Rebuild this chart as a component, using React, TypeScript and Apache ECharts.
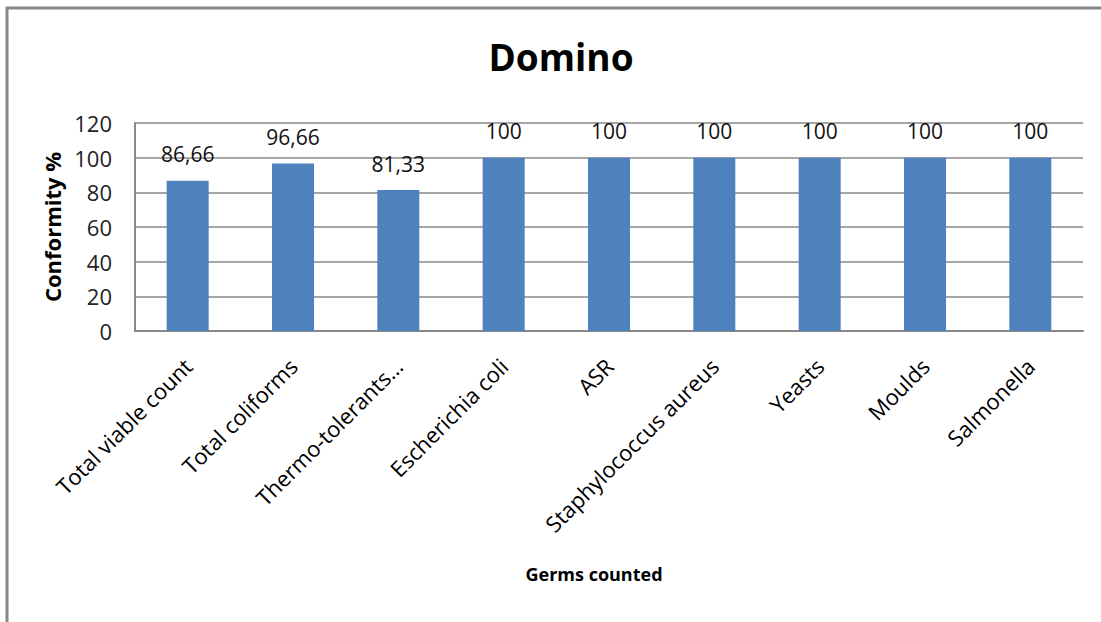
import React, { useEffect, useRef } from "react";
import * as echarts from "echarts";

const categories = [
  "Total viable count",
  "Total coliforms",
  "Thermo-tolerants…",
  "Escherichia coli",
  "ASR",
  "Staphylococcus aureus",
  "Yeasts",
  "Moulds",
  "Salmonella",
];
const values = [86.66, 96.66, 81.33, 100, 100, 100, 100, 100, 100];
const yTicks = { min: 0, max: 120, interval: 20 };
const titleText = "Domino";
const yName = "Conformity %";
const xName = "Germs counted";

const FONT = "'Open Sans', 'Noto Sans', sans-serif";

export default function App() {
  const ref = useRef<HTMLDivElement>(null);
  useEffect(() => {
    if (!ref.current) return;
    const chart = echarts.init(ref.current, undefined, { renderer: "svg" });
    chart.setOption({
      animation: false,
      backgroundColor: "#ffffff",
      title: {
        text: titleText,
        left: 556,
        top: 33,
        textAlign: "center",
        textStyle: { fontFamily: FONT, fontSize: 37, fontWeight: "bold", color: "#000" },
      },
      graphic: [
        {
          type: "polyline",
          shape: { points: [[7, 622], [7, 8], [1101, 8]] },
          style: { stroke: "#888888", lineWidth: 3, fill: "none" },
          silent: true,
        },
      ],
      grid: { left: 135, right: 18, top: 123, bottom: 291, containLabel: false },
      xAxis: {
        type: "category",
        data: categories,
        name: xName,
        nameLocation: "middle",
        nameGap: 234,
        nameTextStyle: {
          fontFamily: FONT,
          fontSize: 18,
          fontWeight: "bold",
          color: "#000",
          padding: [0, 30, 0, 0],
        },
        axisLine: { show: true, lineStyle: { color: "#888", width: 2 } },
        axisTick: { show: false },
        axisLabel: {
          interval: 0,
          rotate: 45,
          margin: 31,
          fontFamily: FONT,
          fontSize: 22,
          color: "#000",
        },
      },
      yAxis: {
        type: "value",
        min: yTicks.min,
        max: yTicks.max,
        interval: yTicks.interval,
        name: yName,
        nameLocation: "middle",
        nameGap: 68,
        nameTextStyle: { fontFamily: FONT, fontSize: 22, fontWeight: "bold", color: "#000" },
        axisLine: { show: true, lineStyle: { color: "#888", width: 2 } },
        axisTick: { show: false },
        axisLabel: { fontFamily: FONT, fontSize: 22, color: "#222", margin: 23 },
        splitLine: { show: true, lineStyle: { color: "#888", width: 1.5 } },
      },
      series: [
        {
          type: "bar",
          data: values,
          barWidth: 42,
          itemStyle: { color: "#4F81BD" },
          label: {
            show: true,
            position: "top",
            distance: 16,
            fontFamily: FONT,
            fontSize: 21,
            color: "#111",
            formatter: (p: any) => String(p.value).replace(".", ","),
          },
        },
      ],
    });
    return () => chart.dispose();
  }, []);
  return (
    <div
      ref={ref}
      style={{ position: "fixed", left: 0, top: 0, width: 1101, height: 622 }}
    />
  );
}
